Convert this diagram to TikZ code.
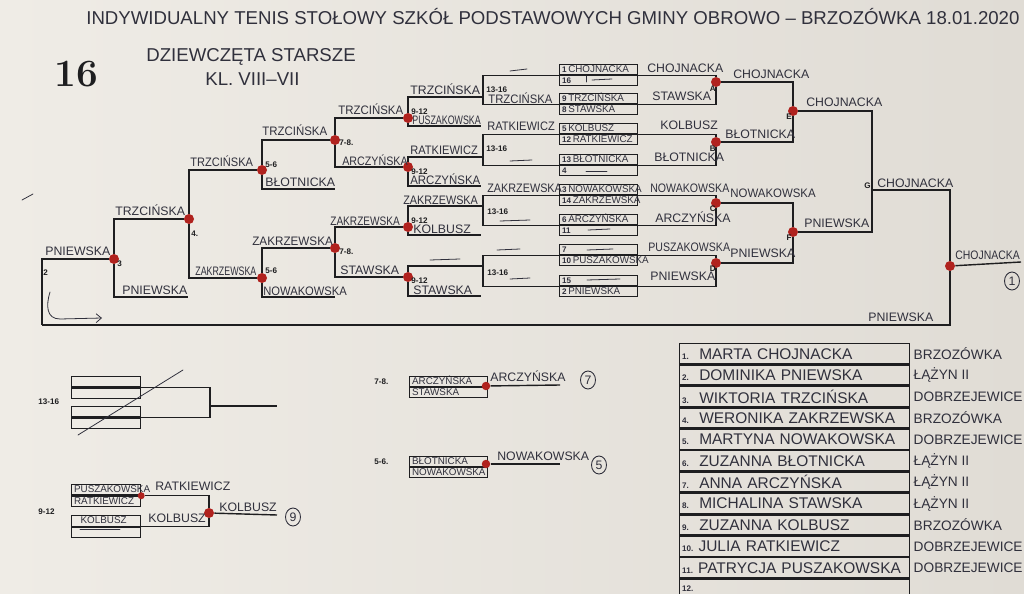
\documentclass[tikz,border=0pt]{standalone}
\usepackage{fontspec}
\usetikzlibrary{positioning,shapes.geometric,arrows.meta}
\newfontfamily\penfont{Liberation Sans}
\definecolor{paper}{RGB}{239,236,230}
\definecolor{paperdark}{RGB}{224,220,213}
\definecolor{ink}{RGB}{30,30,32}
\definecolor{pen}{RGB}{48,48,60}
\definecolor{dotred}{RGB}{176,34,30}
\newcommand\handfont{\penfont\fontsize{7}{8}\selectfont}
\newcommand\cellfont{\penfont\fontsize{5.6}{5.6}\selectfont}
\newcommand\tagfont{\penfont\bfseries\fontsize{4.6}{4.6}\selectfont}
\newcommand\titlefont{\penfont\fontsize{10.6}{11}\selectfont}
\newcommand\tablefont{\penfont\fontsize{8.8}{9}\selectfont}
\newcommand\clubfont{\penfont\fontsize{7.8}{8}\selectfont}
\newcommand\seedname[2]{\rlap{{\tagfont #1}\,#2}}
\newcommand\squeeze[2]{\scalebox{#1}[1]{#2}}

\begin{document}
\begin{tikzpicture}[x=0.02cm, y=-0.02cm,
  ln/.style={draw=ink, line width=0.8pt},
  hand/.style={draw=pen, line width=0.45pt, line cap=round},
  cell/.style={draw=ink, line width=0.7pt, rectangle, minimum width=1.56cm, minimum height=0.2cm, text width=1.46cm, inner xsep=0.05cm, inner ysep=0pt, align=left, text height=3.7pt, text depth=0.2pt, font=\cellfont, text=pen, anchor=north west},
  smallcell/.style={cell, minimum width=1.38cm, text width=1.28cm, minimum height=0.21cm},
  row/.style={draw=ink, line width=0.8pt, rectangle, minimum width=4.6cm, minimum height=0.4cm, text width=4.5cm, inner xsep=0.05cm, inner ysep=0pt, align=left, font=\tablefont, text=pen, anchor=north west},
  dot/.style={circle, fill=dotred, inner sep=0pt, minimum size=0.2cm},
  nm/.style={font=\handfont, text=pen, inner sep=0pt, anchor=south west},
  tag/.style={font=\tagfont, text=ink, inner sep=0pt, anchor=west},
  club/.style={font=\clubfont, text=pen, inner sep=0pt, anchor=west},
  ring/.style={ellipse, draw=pen, line width=0.5pt, inner sep=0pt, minimum width=0.3cm, minimum height=0.36cm, font=\handfont, text=pen}]
% Paper
\useasboundingbox (0,0) rectangle (1024,594);
\clip (0,0) rectangle (1024,594);
\shade[left color=paper, right color=paperdark] (0,0) rectangle (1024,594);
% Header
\node[font=\fontsize{22}{22}\selectfont\bfseries, text=ink, inner sep=0pt] (num) at (76,74) {16};
\node[font=\titlefont, text=pen, inner sep=0pt, anchor=west] (title) at (86,17) {INDYWIDUALNY TENIS STOŁOWY SZKÓŁ PODSTAWOWYCH GMINY OBROWO – BRZOZÓWKA 18.01.2020};
\node[font=\titlefont, text=pen, inner sep=0pt, anchor=west] (group) at (146,57) {DZIEWCZĘTA STARSZE};
\node[font=\titlefont, text=pen, inner sep=0pt, anchor=west] (grade) at (205,79) {KL. VIII–VII};
% First round
\node[cell] (b1a) at (559,64) {\seedname{1}{CHOJNACKA}};
\node[cell, below=0pt of b1a] (b1b) {\seedname{16}{}};
\node[cell] (b2a) at (559,93) {\seedname{9}{TRZCIŃSKA}};
\node[cell, below=0pt of b2a] (b2b) {\seedname{8}{STAWSKA}};
\node[cell] (b3a) at (559,123) {\seedname{5}{KOLBUSZ}};
\node[cell, below=0pt of b3a] (b3b) {\seedname{12}{RATKIEWICZ}};
\node[cell] (b4a) at (559,154) {\seedname{13}{BŁOTNICKA}};
\node[cell, below=0pt of b4a] (b4b) {\seedname{4}{}};
\node[cell] (b5a) at (559,184) {\seedname{3}{NOWAKOWSKA}};
\node[cell, below=0pt of b5a] (b5b) {\seedname{14}{ZAKRZEWSKA}};
\node[cell] (b6a) at (559,214) {\seedname{6}{ARCZYŃSKA}};
\node[cell, below=0pt of b6a] (b6b) {\seedname{11}{}};
\node[cell] (b7a) at (559,244) {\seedname{7}{}};
\node[cell, below=0pt of b7a] (b7b) {\seedname{10}{PUSZAKOWSKA}};
\node[cell] (b8a) at (559,275) {\seedname{15}{}};
\node[cell, below=0pt of b8a] (b8b) {\seedname{2}{PNIEWSKA}};
% Winners
\node[dot] (A) at (716,82) {};
\node[dot] (B) at (716,142) {};
\node[dot] (C) at (716,203) {};
\node[dot] (D) at (716,263) {};
\node[dot] (E) at (793,111) {};
\node[dot] (F) at (793,232) {};
\coordinate (G) at (872,190);
\node[dot] (W) at (950,266) {};
\coordinate (R) at (42,325);
\coordinate (champ) at (1021,262);
\draw[ln] (b1a.south east) -| (A) |- (b2a.south east);
\draw[ln] (b3a.south east) -| (B) |- (b4a.south east);
\draw[ln] (b5a.south east) -| (C) |- (b6a.south east);
\draw[ln] (b7a.south east) -| (D) |- (b8a.south east);
\draw[ln] (A) -| (E) |- (B);
\draw[ln] (C) -| (F) |- (D);
\draw[ln] (E) -| (G) |- (F);
\draw[ln] (G) -| (W);
\draw[ln] (W) -- (champ);
\draw[ln] (W) |- (R);
% Losers
\coordinate (L1) at (483,97);
\coordinate (L2) at (483,157);
\coordinate (L3) at (483,206);
\coordinate (L4) at (483,266);
\node[dot] (K1) at (408,118) {};
\node[dot] (K2) at (408,167) {};
\node[dot] (K3) at (408,227) {};
\node[dot] (K4) at (408,277) {};
\coordinate (K1e) at (481,126);
\coordinate (K2e) at (481,186);
\coordinate (K3e) at (481,235);
\coordinate (K4e) at (481,296);
\node[dot] (M1) at (335,140) {};
\node[dot] (M2) at (335,248) {};
\coordinate (N1e) at (335,189);
\coordinate (N2e) at (335,297);
\node[dot] (N1) at (262,170) {};
\node[dot] (N2) at (262,278) {};
\node[dot] (P) at (189,219) {};
\coordinate (Qe) at (188,297);
\node[dot] (Q) at (114,259) {};
\draw[ln] (b1a.south west) -| (L1) |- (b2a.south west);
\draw[ln] (b3a.south west) -| (L2) |- (b4a.south west);
\draw[ln] (b5a.south west) -| (L3) |- (b6a.south west);
\draw[ln] (b7a.south west) -| (L4) |- (b8a.south west);
\draw[ln] (L1) -| (K1) |- (K1e);
\draw[ln] (L2) -| (K2) |- (K2e);
\draw[ln] (L3) -| (K3) |- (K3e);
\draw[ln] (L4) -| (K4) |- (K4e);
\draw[ln] (K1) -| (M1) |- (K2);
\draw[ln] (K3) -| (M2) |- (K4);
\draw[ln] (M1) -| (N1) |- (N1e);
\draw[ln] (M2) -| (N2) |- (N2e);
\draw[ln] (N1) -| (P) |- (N2);
\draw[ln] (P) -| (Q) |- (Qe);
\draw[ln] (Q) -| (R);
% Bracket tags
\node[tag, anchor=east] (A-lbl) at (716,89) {A};
\node[tag, anchor=east] (B-lbl) at (716,149) {B};
\node[tag, anchor=east] (C-lbl) at (716,209) {C};
\node[tag, anchor=east] (D-lbl) at (716,269) {D};
\node[tag, anchor=east] (E-lbl) at (792,117) {E};
\node[tag, anchor=east] (F-lbl) at (792,238) {F};
\node[tag, anchor=east] (G-lbl) at (871,186) {G};
\node[tag] (x1) at (486,90) {13-16};
\node[tag] (x2) at (486,149) {13-16};
\node[tag] (x3) at (487,212) {13-16};
\node[tag] (x4) at (487,273) {13-16};
\node[tag] (y1) at (411,112) {9-12};
\node[tag] (y2) at (411,172) {9-12};
\node[tag] (y3) at (411,221) {9-12};
\node[tag] (y4) at (411,281) {9-12};
\node[tag] (z1) at (339,143) {7-8.};
\node[tag] (z2) at (339,252) {7-8.};
\node[tag] (s1) at (265,165) {5-6};
\node[tag] (s2) at (265,271) {5-6};
\node[tag] (f4) at (191,234) {4.};
\node[tag] (f3) at (117,264) {3};
\node[tag] (f2) at (43,273) {2};
% Winners names
\node[nm] (w1) at (647,73) {CHOJNACKA};
\node[nm] (w2) at (652,101) {STAWSKA};
\node[nm] (w3) at (660,130) {KOLBUSZ};
\node[nm] (w4) at (654,162) {BŁOTNICKA};
\node[nm] (w5) at (650,193) {\squeeze{0.86}{NOWAKOWSKA}};
\node[nm] (w6) at (655,223) {ARCZYŃSKA};
\node[nm] (w7) at (648,252) {\squeeze{0.86}{PUSZAKOWSKA}};
\node[nm] (w8) at (650,281) {PNIEWSKA};
\node[nm] (wA) at (733,79) {CHOJNACKA};
\node[nm] (wB) at (725,139) {BŁOTNICKA};
\node[nm] (wC) at (730,198) {\squeeze{0.93}{NOWAKOWSKA}};
\node[nm] (wD) at (730,258) {PNIEWSKA};
\node[nm] (wE) at (806,107) {CHOJNACKA};
\node[nm] (wF) at (804,228) {PNIEWSKA};
\node[nm] (wG) at (877,188) {CHOJNACKA};
\node[nm] (wW) at (955,260) {\squeeze{0.85}{CHOJNACKA}};
\node[nm] (wR) at (868,322) {PNIEWSKA};
\node[ring] (first) at (1012,281) {1};
% Losers names
\node[nm] (l1) at (410,95) {TRZCIŃSKA};
\node[nm] (l1b) at (488,103.5) {\squeeze{0.92}{TRZCIŃSKA}};
\node[nm] (l2) at (412,125) {\squeeze{0.72}{PUSZAKOWSKA}};
\node[nm] (l3) at (487,131) {\squeeze{0.9}{RATKIEWICZ}};
\node[nm] (l4) at (410,155) {\squeeze{0.9}{RATKIEWICZ}};
\node[nm] (l5) at (410,185) {\squeeze{0.93}{ARCZYŃSKA}};
\node[nm] (l6) at (487,193) {\squeeze{0.88}{ZAKRZEWSKA}};
\node[nm] (l7) at (403,205) {\squeeze{0.88}{ZAKRZEWSKA}};
\node[nm] (l8) at (413,234) {KOLBUSZ};
\node[nm] (l9) at (413,295) {STAWSKA};
\node[nm] (m1t) at (338,115) {\squeeze{0.93}{TRZCIŃSKA}};
\node[nm] (m1b) at (342,166) {\squeeze{0.87}{ARCZYŃSKA}};
\node[nm] (m2t) at (330,226) {\squeeze{0.82}{ZAKRZEWSKA}};
\node[nm] (m2b) at (340,275) {STAWSKA};
\node[nm] (n1t) at (262,136) {\squeeze{0.93}{TRZCIŃSKA}};
\node[nm] (n1b) at (265,187) {BŁOTNICKA};
\node[nm] (n2t) at (252,246) {\squeeze{0.95}{ZAKRZEWSKA}};
\node[nm] (n2b) at (263,296) {\squeeze{0.91}{NOWAKOWSKA}};
\node[nm] (pt) at (190,167) {\squeeze{0.9}{TRZCIŃSKA}};
\node[nm] (pb) at (195,276) {\squeeze{0.72}{ZAKRZEWSKA}};
\node[nm] (qt) at (115,216) {TRZCIŃSKA};
\node[nm] (qb) at (122,295) {PNIEWSKA};
\node[nm] (rt) at (45,256) {PNIEWSKA};
% Hand marks
\draw[hand] (510,71) -- (527,69);
\draw[hand] (586,76) -- (586,82);
\draw[hand] (592,80) -- (612,79);
\draw[hand] (510,161) -- (532,160);
\draw[hand] (586,171) -- (607,171);
\draw[hand] (500,221) -- (530,220);
\draw[hand] (588,230) -- (610,229);
\draw[hand] (497,250) -- (520,249);
\draw[hand] (430,260) -- (460,259);
\draw[hand] (587,250) -- (613,249);
\draw[hand] (510,279) -- (530,278);
\draw[hand] (587,280) -- (620,279);
\draw[hand] (22,200) -- (33,194);
\draw[hand, -{Straight Barb[length=3pt,width=5pt]}] (50,292) .. controls (46,305) and (46,319) .. (60,319) -- (102,318);
% 13-16 (empty)
\node[smallcell] (ea) at (71,376) {};
\node[smallcell, below=0pt of ea] (eb) {};
\node[smallcell] (fa) at (71,406) {};
\node[smallcell, below=0pt of fa] (fb) {};
\coordinate (X) at (210,406);
\coordinate (Xe) at (277,406);
\draw[ln] (ea.south east) -| (X) |- (fa.south east);
\draw[ln] (X) -- (Xe);
\draw[hand] (78,435) -- (183,370);
\node[tag] (x5) at (38,402) {13-16};
% 9-12
\node[smallcell] (ga) at (71,484) {PUSZAKOWSKA};
\node[smallcell, below=0pt of ga] (gb) {RATKIEWICZ};
\node[smallcell] (ha) at (71,515) {\ \ KOLBUSZ};
\node[smallcell, below=0pt of ha] (hb) {};
\node[dot, minimum size=0.14cm] (Yc) at (ga.south east) {};
\node[dot] (Y) at (209,513) {};
\coordinate (Ye) at (277,515);
\draw[ln] (Yc) -| (Y) |- (ha.south east);
\draw[ln] (Y) -- (Ye);
\draw[hand] (80,529) -- (120,529);
\node[nm] (g1) at (155,491) {RATKIEWICZ};
\node[nm] (g2) at (148,523) {KOLBUSZ};
\node[nm] (g3) at (219,512) {KOLBUSZ};
\node[ring] (ninth) at (293,517) {9};
\node[tag] (y5) at (38,512) {9-12};
% 7-8
\node[cell] (ka) at (409,376) {ARCZYŃSKA};
\node[cell, below=0pt of ka] (kb) {STAWSKA};
\node[dot, minimum size=0.17cm] (Z7) at (486,386) {};
\coordinate (Z7e) at (560,385);
\draw[ln] (Z7) -- (Z7e);
\node[nm] (k1) at (490,382) {ARCZYŃSKA};
\node[ring] (seventh) at (588,380) {7};
\node[tag] (z5) at (374,382) {7-8.};
% 5-6
\node[cell] (ma) at (409,456) {BŁOTNICKA};
\node[cell, below=0pt of ma] (mb) {NOWAKOWSKA};
\node[dot, minimum size=0.17cm] (Z5) at (486,464) {};
\coordinate (Z5e) at (560,464);
\draw[ln] (Z5) -- (Z5e);
\node[nm] (k2) at (497,461) {NOWAKOWSKA};
\node[ring] (fifth) at (599,465) {5};
\node[tag] (s5) at (374,462) {5-6.};
% Players
\node[row] (t1) at (679,343) {{\tagfont 1.}\ \ MARTA CHOJNACKA};
\node[row, below=0pt of t1] (t2) {{\tagfont 2.}\ \ DOMINIKA PNIEWSKA};
\node[row, below=0pt of t2] (t3) {{\tagfont 3.}\ \ WIKTORIA TRZCIŃSKA};
\node[row, below=0pt of t3] (t4) {{\tagfont 4.}\ \ WERONIKA ZAKRZEWSKA};
\node[row, below=0pt of t4] (t5) {{\tagfont 5.}\ \ MARTYNA NOWAKOWSKA};
\node[row, below=0pt of t5] (t6) {{\tagfont 6.}\ \ ZUZANNA BŁOTNICKA};
\node[row, below=0pt of t6] (t7) {{\tagfont 7.}\ \ ANNA ARCZYŃSKA};
\node[row, below=0pt of t7] (t8) {{\tagfont 8.}\ \ MICHALINA STAWSKA};
\node[row, below=0pt of t8] (t9) {{\tagfont 9.}\ \ ZUZANNA KOLBUSZ};
\node[row, below=0pt of t9] (t10) {{\tagfont 10.}\ JULIA RATKIEWICZ};
\node[row, below=0pt of t10] (t11) {{\tagfont 11.}\ PATRYCJA PUSZAKOWSKA};
\node[row, below=0pt of t11] (t12) {{\tagfont 12.}};
\node[row, below=0pt of t12] (t13) {};
\node[club, right=0.06cm of t1] (c1) {BRZOZÓWKA};
\node[club, right=0.06cm of t2] (c2) {ŁĄŻYN II};
\node[club, right=0.06cm of t3] (c3) {DOBRZEJEWICE};
\node[club, right=0.06cm of t4] (c4) {BRZOZÓWKA};
\node[club, right=0.06cm of t5] (c5) {DOBRZEJEWICE};
\node[club, right=0.06cm of t6] (c6) {ŁĄŻYN II};
\node[club, right=0.06cm of t7] (c7) {ŁĄŻYN II};
\node[club, right=0.06cm of t8] (c8) {ŁĄŻYN II};
\node[club, right=0.06cm of t9] (c9) {BRZOZÓWKA};
\node[club, right=0.06cm of t10] (c10) {DOBRZEJEWICE};
\node[club, right=0.06cm of t11] (c11) {DOBRZEJEWICE};
\end{tikzpicture}
\end{document}
